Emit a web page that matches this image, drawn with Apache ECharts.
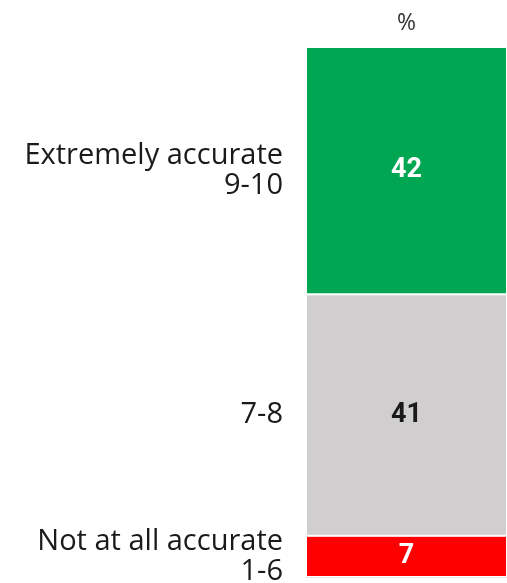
<!DOCTYPE html>
<html>
<head>
<meta charset="utf-8">
<script src="https://cdn.jsdelivr.net/npm/echarts@6/dist/echarts.min.js"></script>
<style>html,body{margin:0;padding:0;background:#fff}#c{width:507px;height:583px}</style>
</head>
<body>
<div id="c"></div>
<script>
const columns = ['%'];
const segmentNames = ['Extremely accurate\n9-10', '7-8', 'Not at all accurate\n1-6'];
const segmentValues = [42, 41, 7];
const segmentColors = ['#00a651', '#d0cece', '#ff0000'];
const valueLabelColors = ['#ffffff', '#1a1a1a', '#ffffff'];

const chart = echarts.init(document.getElementById('c'));
const FONT = 'Open Sans';
const series = [];
// stack from bottom: red, grey, green
for (let i = segmentValues.length - 1; i >= 0; i--) {
  series.push({
    type: 'bar', stack: 'a', name: segmentNames[i],
    data: [segmentValues[i]], barWidth: '100%',
    itemStyle: { color: segmentColors[i], borderColor: '#ffffff', borderWidth: 1 },
    label: { show: true, position: 'inside', color: valueLabelColors[i], fontFamily: 'Roboto', fontWeight: 'bold', fontSize: 27 },
    silent: true
  });
}
for (let i = segmentValues.length - 1; i >= 0; i--) {
  series.push({
    type: 'bar', stack: 'b', name: segmentNames[i] + ' label',
    data: [segmentValues[i]], barWidth: '100%', barGap: '-100%',
    itemStyle: { color: 'rgba(0,0,0,0)' },
    label: { show: true, position: 'left', distance: 23, formatter: segmentNames[i], align: 'right',
      color: '#1a1a1a', fontFamily: FONT, fontSize: 29, lineHeight: 30 },
    silent: true
  });
}
chart.setOption({
  animation: false,
  grid: { left: 306, right: 0, top: 47, bottom: 6 },
  xAxis: { type: 'category', data: columns, position: 'top',
    axisLine: { show: true, lineStyle: { color: '#e6e6e6' } }, axisTick: { show: false },
    axisLabel: { color: '#333', fontFamily: FONT, fontSize: 23, margin: 12 } },
  yAxis: { type: 'value', min: 0, max: 90, show: true,
    axisLine: { show: true, lineStyle: { color: '#e6e6e6' } }, axisLabel: { show: false },
    splitLine: { show: false }, axisTick: { show: false } },
  series: series
});
</script>
</body>
</html>
